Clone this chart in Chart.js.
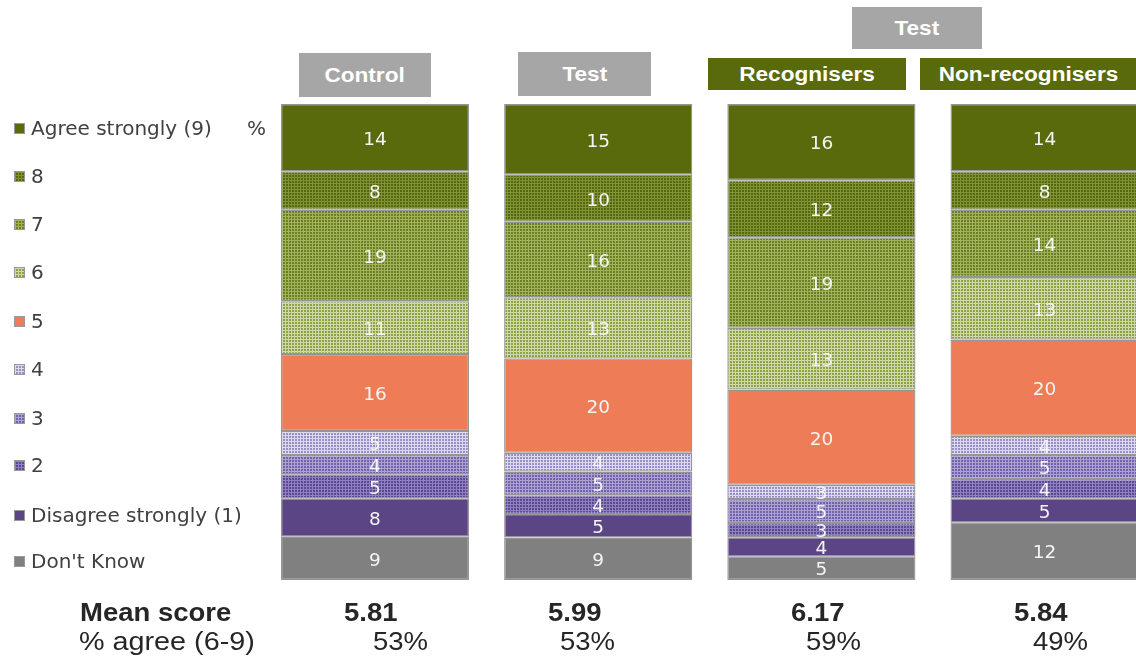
<!DOCTYPE html>
<html><head><meta charset="utf-8">
<script src="https://cdn.jsdelivr.net/npm/chart.js@4"></script>
<style>
html,body{margin:0;padding:0;background:#fff;overflow:hidden;width:1136px;height:657px;}
#wrap{position:absolute;left:0;top:0;width:1136px;height:657px;overflow:hidden;}
canvas{position:absolute;left:0;top:0;}
.hdr{position:absolute;color:#fff;font-family:"Liberation Sans",Arial,sans-serif;font-weight:bold;font-size:20px;display:flex;align-items:center;justify-content:center;}
.hdr span{display:inline-block;transform:scaleX(1.13);}
.leg{position:absolute;left:14px;font-family:"DejaVu Sans",sans-serif;font-size:20px;color:#404040;display:flex;align-items:center;height:24px;white-space:nowrap;}
.sq{width:9px;height:9px;border:1px solid #999;margin-right:6px;flex:none;}
.bt{position:absolute;font-family:"Liberation Sans",Arial,sans-serif;font-size:25px;line-height:25px;color:#262626;white-space:nowrap;transform:scaleX(1.1);transform-origin:left center;}
</style></head><body>
<div id="wrap"><canvas id="c" width="1170" height="657"></canvas></div>
<script>
// ---- data ----
const categories = ['Control', 'Test', 'Recognisers', 'Non-recognisers'];
const seriesNames = ["Don't Know", 'Disagree strongly (1)', '2', '3', '4', '5', '6', '7', '8', 'Agree strongly (9)'];
const dontKnow = [9, 9, 5, 12];
const score1 = [8, 5, 4, 5];
const score2 = [5, 4, 3, 4];
const score3 = [4, 5, 5, 5];
const score4 = [5, 4, 3, 4];
const score5 = [16, 20, 20, 20];
const score6 = [11, 13, 13, 13];
const score7 = [19, 16, 19, 14];
const score8 = [8, 10, 12, 8];
const score9 = [14, 15, 16, 14];
const meanScores = ['5.81', '5.99', '6.17', '5.84'];
const agreePct = ['53%', '53%', '59%', '49%'];

// ---- styling (not data) ----
function tile(base, line) {
  const c = document.createElement('canvas'); c.width = 3; c.height = 3;
  const x = c.getContext('2d');
  x.fillStyle = base; x.fillRect(0, 0, 3, 3);
  x.fillStyle = line; x.fillRect(0, 0, 3, 1); x.fillRect(0, 0, 1, 3);
  return c;
}
const solid = (col) => ({ fill: col, css: col });
const pat = (b, l) => { const t = tile(b, l); return { fill: document.getElementById('c').getContext('2d').createPattern(t, 'repeat'), css: 'url(' + t.toDataURL() + ')' }; };
const styles = [
  solid('#808080'),
  solid('#5b4585'),
  pat('#5c4992', '#8f81c0'),
  pat('#7162a9', '#aba1d2'),
  pat('#988fc5', '#dcd8ee'),
  solid('#ee7c57'),
  pat('#8da244', '#cfd8a8'),
  pat('#6b8120', '#a0b25e'),
  pat('#55680c', '#809339'),
  solid('#586a0b')
];
const allSeries = [dontKnow, score1, score2, score3, score4, score5, score6, score7, score8, score9];
const totals = categories.map((_, i) => allSeries.reduce((s, a) => s + a[i], 0));

const labelPlugin = {
  id: 'segLabels',
  afterDatasetsDraw(chart) {
    const ctx = chart.ctx;
    ctx.save();
    ctx.font = '18.5px "DejaVu Sans", sans-serif';
    ctx.fillStyle = '#f4f4f4';
    ctx.textAlign = 'center';
    ctx.textBaseline = 'middle';
    chart.data.datasets.forEach((ds, di) => {
      chart.getDatasetMeta(di).data.forEach((el, i) => {
        const p = el.getProps(['x', 'y', 'base'], true);
        ctx.fillText(String(ds.raw[i]), p.x, (p.y + p.base) / 2 + 2.5);
      });
    });
    ctx.restore();
  }
};

new Chart(document.getElementById('c'), {
  type: 'bar',
  data: {
    labels: categories,
    datasets: allSeries.map((arr, k) => ({
      label: seriesNames[k],
      raw: arr,
      data: arr.map((v, i) => v / totals[i] * 100),
      backgroundColor: styles[k].fill,
      borderColor: '#959595',
      borderWidth: 1.3,
      borderSkipped: false,
      barPercentage: 0.843,
      categoryPercentage: 1
    }))
  },
  options: {
    responsive: false,
    animation: false,
    events: [],
    layout: { padding: { left: 263.4, right: 13.8, top: 104, bottom: 77 } },
    plugins: { legend: { display: false }, tooltip: { enabled: false } },
    scales: {
      x: { stacked: true, display: false },
      y: { stacked: true, display: false, min: 0, max: 100 }
    }
  },
  plugins: [labelPlugin]
});

// ---- HTML text: headers, legend, summary rows ----
const wrap = document.getElementById('wrap');
function add(cls, html, css) { const d = document.createElement('div'); d.className = cls; d.innerHTML = html; Object.assign(d.style, css); wrap.appendChild(d); return d; }
const headers = [
  { t: 'Control', l: 299, tp: 53, w: 132, h: 44, bg: '#a6a6a6' },
  { t: 'Test', l: 518, tp: 52, w: 133, h: 44, bg: '#a6a6a6' },
  { t: 'Test', l: 852, tp: 7, w: 130, h: 42, bg: '#a6a6a6' },
  { t: 'Recognisers', l: 708, tp: 58, w: 198, h: 32, bg: '#586a0b' },
  { t: 'Non-recognisers', l: 920, tp: 58, w: 216, h: 32, bg: '#586a0b' }
];
headers.forEach(h => add('hdr', '<span>' + h.t + '</span>', { left: h.l + 'px', top: h.tp + 'px', width: h.w + 'px', height: h.h + 'px', background: h.bg }));

const legendY = [128, 176, 224, 272, 321, 369, 418, 465, 515, 561];
for (let k = 9; k >= 0; k--) {
  const row = 9 - k;
  const d = add('leg', '', { top: (legendY[row] - 12) + 'px' });
  const sq = document.createElement('div'); sq.className = 'sq';
  sq.style.background = styles[k].css; sq.style.backgroundColor = typeof styles[k].fill === 'string' ? styles[k].fill : '';
  d.appendChild(sq);
  d.appendChild(document.createTextNode(seriesNames[k]));
}
add('leg', '%', { left: '247px', top: (128 - 12) + 'px' });

add('bt', 'Mean score', { left: '80px', top: '600px', fontWeight: 'bold' });
add('bt', '% agree (6-9)', { left: '79px', top: '629px', transform: 'scaleX(1.15)' });
const meanX = [344, 548, 791, 1014];
const pctX = [373, 560, 806, 1033];
meanScores.forEach((m, i) => add('bt', m, { left: meanX[i] + 'px', top: '600px', fontWeight: 'bold' }));
agreePct.forEach((p, i) => add('bt', p, { left: pctX[i] + 'px', top: '629px' }));
</script>
</body></html>
